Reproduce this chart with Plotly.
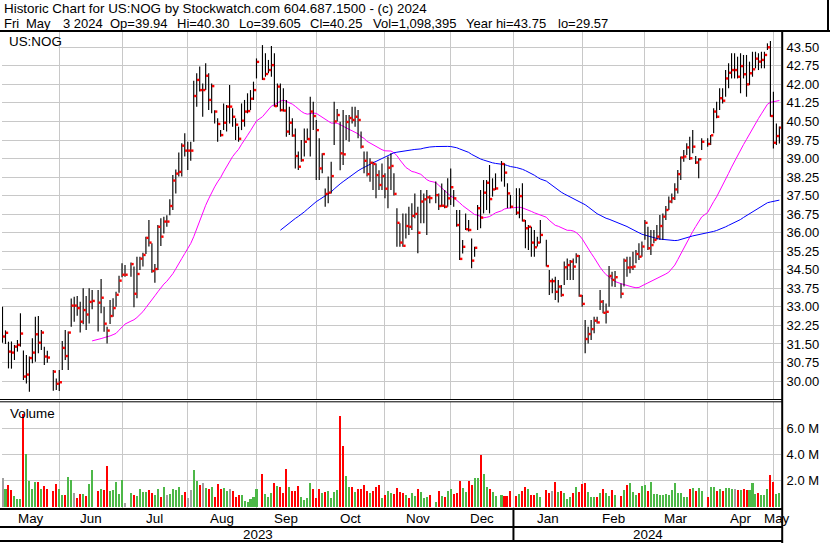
import numpy as np
import pandas as pd
import plotly.graph_objects as go

# ---------------- data ----------------
holidays = ["2023-05-29", "2023-06-19", "2023-07-04", "2023-09-04", "2023-11-23",
            "2023-12-25", "2024-01-01", "2024-01-15", "2024-02-19", "2024-03-29"]
first_day = "2023-05-05"
last_day = "2024-05-03"

highs = [
    33.0, 32.05, 31.59, 31.6, 31.46, 31.66, 32.74, 31.23, 31.05, 30.99, 31.73, 32.6, 32.63, 32.06, 31.39, 31.22,
    30.45, 30.1, 30.45, 31.62, 32.06, 32.0, 33.34, 33.41, 33.44, 33.21, 33.75, 33.44, 33.75, 33.68,
    33.68, 34.13, 33.0, 32.2, 33.28, 33.35, 33.61, 34.26, 34.76, 34.69,
    34.79, 34.63, 35.03, 35.03, 35.19, 35.84, 36.51, 35.57, 34.73, 36.31, 36.58, 36.65, 36.71, 37.35, 38.33,
    38.56, 39.24, 39.62, 40.02, 39.68, 39.68, 42.15, 42.45, 42.72, 42.04, 42.85, 42.45, 42.04, 40.95, 40.63,
    40.15, 41.23, 41.17, 41.97, 41.03, 40.63, 40.29, 41.23, 41.37, 41.64, 41.77, 42.11, 43.05,
    43.59, 43.26, 42.99, 43.55, 43.26, 42.04, 42.04, 41.84, 41.37, 41.1, 40.63, 40.22, 39.28, 39.75, 40.22,
    40.22, 41.5, 41.3, 40.56, 39.82, 39.21, 37.79, 38.27, 38.87, 41.3, 41.0, 40.49, 40.96, 40.76, 40.76,
    41.1, 41.1, 40.96, 40.09, 39.28, 39.28, 39.01, 38.87, 38.8, 38.53, 38.8, 38.4, 39.08, 39.21, 38.4,
    36.99, 36.38, 36.78, 36.78, 37.05, 37.19, 37.59, 37.05, 37.73, 37.59, 37.73, 37.52,
    38.07, 37.59, 37.99, 37.73, 38.2, 38.6, 37.73, 36.92, 36.92, 35.7, 36.78, 36.51, 35.77, 35.43, 37.12,
    37.73, 38.13, 38.13, 38.74, 38.2, 38.4,
    38.9, 38.81, 38.0, 37.53,
    37.8, 37.8, 38.0, 36.51, 36.31, 36.24, 36.11, 35.84, 36.51,
    35.71, 34.49, 34.15, 34.22, 34.09, 33.88, 34.83, 34.96, 34.9, 34.96, 35.17, 35.1, 33.48, 32.47, 32.2,
    32.47, 32.6, 32.6, 33.68, 33.28, 33.14, 34.65, 34.42, 34.45,
    33.95, 34.96, 35.03, 35.03, 35.23, 35.3, 35.57, 35.64, 36.51, 36.24, 36.11, 36.11, 36.31, 36.72, 36.78,
    37.08, 37.46, 37.59, 38.0, 38.54, 39.08, 39.35, 39.62, 39.88, 40.15, 39.1, 39.01, 39.82,
    39.82, 39.95, 41.03, 41.3, 41.84, 41.84, 42.58, 42.85, 43.26, 43.26, 43.12, 43.26, 43.19, 43.19, 42.92,
    43.32, 43.32, 43.26, 43.32, 43.32, 43.66, 43.75, 41.7, 40.42, 40.30,
]
lows = [
    31.55, 31.5, 30.51, 30.5, 30.85, 31.19, 31.39, 30.04, 29.9, 29.57, 30.72, 30.78, 31.12, 31.25, 30.65, 30.74,
    29.61, 29.64, 29.6, 30.45, 30.85, 30.45, 32.2, 32.4, 32.64, 31.96, 32.3, 32.06, 32.33, 32.9,
    32.0, 32.74, 31.99, 31.52, 32.31, 32.6, 33.0, 33.57, 34.2, 34.22,
    34.22, 32.98, 33.35, 34.49, 34.63, 35.14, 35.44, 34.38, 33.98, 34.49, 35.46, 35.97, 36.24, 36.71, 36.92,
    37.59, 38.27, 38.27, 39.08, 38.54, 38.91, 39.68, 41.1, 41.71, 40.69, 41.77, 40.96, 40.83, 40.42, 39.68,
    39.88, 40.15, 40.09, 40.42, 40.29, 39.75, 39.68, 40.15, 40.29, 40.83, 40.96, 41.37, 42.24,
    42.18, 42.31, 42.45, 42.31, 41.1, 41.1, 40.9, 40.9, 39.88, 39.95, 39.88, 38.6, 38.54, 38.87, 39.08,
    39.75, 39.08, 40.15, 38.13, 38.13, 38.4, 37.05, 37.19, 37.59, 39.55, 40.5, 38.53, 38.74, 39.75, 39.68,
    40.42, 40.29, 39.82, 39.41, 38.4, 38.27, 38.06, 37.73, 37.39, 37.73, 37.73, 37.39, 36.99, 37.73, 37.5,
    35.43, 35.43, 35.43, 35.77, 35.91, 36.11, 36.58, 35.17, 36.38, 36.38, 35.91, 37.19,
    37.19, 36.92, 37.05, 36.99, 37.05, 37.12, 37.05, 36.24, 34.9, 35.16, 36.11, 36.05, 34.56, 35.03, 36.11,
    36.18, 36.78, 36.92, 36.78, 37.46, 37.73,
    38.07, 37.86, 36.99, 36.99,
    36.72, 36.58, 36.45, 35.37, 35.3, 35.03, 35.03, 35.44, 35.57,
    34.63, 33.48, 33.55, 33.28, 33.18, 33.41, 33.88, 34.09, 34.09, 34.09, 34.76, 33.41, 33.0, 31.12, 31.52,
    31.66, 31.93, 32.33, 32.87, 32.74, 32.33, 33.0, 33.82, 33.8,
    33.35, 33.82, 34.22, 34.36, 34.49, 34.76, 34.9, 35.03, 35.71, 35.3, 35.1, 35.57, 35.71, 35.71, 35.71,
    36.51, 36.92, 37.19, 37.32, 37.59, 38.13, 38.87, 39.14, 38.94, 39.21, 38.78, 38.2, 39.35,
    39.48, 39.55, 40.02, 40.63, 40.96, 41.23, 41.5, 41.84, 42.24, 42.24, 42.24, 41.64, 42.24, 41.5, 41.97,
    42.31, 42.65, 42.58, 42.65, 42.65, 43.39, 40.69, 39.41, 39.55, 39.605,
]
closes = [
    31.8, 31.95, 31.19, 31.15, 31.39, 31.46, 31.92, 30.18, 30.26, 30.93, 31.15, 31.89, 31.55, 31.96, 30.99, 30.95,
    30.38, 29.89, 29.95, 31.34, 31.01, 31.96, 33.05, 33.05, 32.95, 32.4, 32.87, 32.69, 33.2, 33.24,
    33.17, 33.37, 32.32, 32.04, 32.63, 32.95, 33.49, 34.06, 34.3, 34.3,
    34.73, 33.53, 34.33, 34.95, 35.1, 35.79, 35.6, 34.45, 34.53, 36.24, 35.84, 36.45, 36.45, 37.08, 38.11,
    38.39, 38.46, 39.52, 39.32, 39.32, 39.32, 41.53, 42.18, 41.77, 41.77, 42.35, 41.37, 41.93, 40.9, 40.4,
    39.95, 40.45, 41.1, 41.1, 40.69, 40.37, 39.8, 40.53, 40.9, 40.92, 41.42, 41.77, 42.91,
    42.22, 42.42, 42.58, 42.78, 41.12, 41.91, 40.96, 40.94, 40.09, 40.45, 39.93, 39.1, 38.67, 38.93, 39.68,
    39.79, 40.9, 40.72, 40.15, 38.6, 39.18, 37.57, 37.62, 38.29, 40.5, 40.76, 39.21, 39.17, 40.48, 40.64,
    40.56, 40.69, 40.56, 39.48, 38.91, 38.37, 38.83, 38.78, 38.33, 37.93, 38.29, 37.78, 38.63, 38.7, 37.57,
    36.4, 35.6, 35.47, 36.27, 36.24, 36.68, 36.76, 36.0, 37.26, 37.35, 37.43, 37.4,
    37.52, 37.08, 37.09, 37.05, 37.39, 37.84, 37.39, 36.31, 34.94, 35.43, 36.14, 36.11, 34.87, 35.39, 36.99,
    36.61, 37.62, 38.02, 37.36, 37.75, 37.79,
    38.78, 38.43, 37.59, 37.05,
    36.81, 37.48, 36.49, 36.18, 36.24, 35.6, 35.41, 35.6, 35.91,
    34.65, 34.04, 34.04, 33.61, 33.82, 33.48, 34.6, 34.69, 34.83, 34.63, 35.06, 33.45, 33.12, 31.7, 31.9,
    32.1, 32.44, 32.37, 33.21, 32.76, 32.8, 34.25, 34.09, 34.2,
    33.53, 34.87, 34.59, 34.6, 34.63, 35.14, 35.03, 35.44, 36.4, 35.37, 35.5, 35.71, 35.84, 36.27, 36.65,
    36.92, 37.26, 37.39, 37.75, 38.37, 39.04, 39.08, 39.45, 39.01, 39.48, 38.84, 38.97, 39.68,
    39.59, 39.94, 40.9, 40.69, 41.44, 41.34, 42.24, 42.47, 42.58, 42.58, 42.31, 42.74, 42.41, 42.0, 42.45,
    42.61, 43.04, 42.92, 42.99, 43.19, 43.5, 40.72, 39.64, 39.91, 40.25,
]
volumes_m = [
    2.24, 1.37, 1.68, 1.3, 0.84, 0.59, 0.61, 7.1, 4.02, 1.98, 1.37, 1.88, 1.88, 1.37, 1.6, 1.35,
    1.22, 1.76, 1.37, 0.92, 0.92, 2.29, 2.04, 1.07, 0.69, 0.99, 0.99, 0.84, 1.73, 2.82,
    1.22, 1.37, 1.27, 3.13, 1.22, 1.3, 1.88, 0.99, 2.04, 0.31,
    1.07, 0.92, 0.84, 1.37, 1.15, 1.15, 1.3, 1.07, 0.92, 1.37, 0.76, 1.53, 0.92, 0.99, 1.37,
    1.3, 1.53, 0.92, 1.15, 0.69, 1.3, 2.82, 1.98, 1.68, 1.83, 1.45, 1.37, 1.53, 0.76, 1.76,
    1.37, 1.45, 1.22, 1.37, 1.22, 0.76, 0.92, 0.92, 0.46, 0.38, 0.61, 0.76, 1.37,
    2.52, 0.99, 0.76, 1.07, 1.83, 1.6, 1.53, 1.07, 2.93, 1.53, 1.22, 1.25, 1.6, 0.76, 0.53,
    0.69, 1.83, 1.37, 0.69, 1.37, 1.07, 1.15, 1.22, 0.69, 1.15, 1.3, 6.97, 4.68, 2.37, 1.53,
    1.53, 1.15, 1.37, 1.37, 1.68, 1.22, 1.07, 1.22, 1.53, 1.68, 0.69, 0.92, 1.22, 1.07, 0.99,
    1.45, 1.15, 1.07, 0.92, 0.69, 1.07, 0.84, 1.37, 1.15, 0.69, 0.76, 0.94,
    0.38, 1.22, 0.84, 0.76, 1.22, 1.37, 0.99, 1.07, 1.98, 1.45, 1.15, 1.98, 1.68, 2.21, 2.21,
    3.97, 2.52, 1.53, 1.37, 1.15, 0.84,
    0.92, 0.84, 0.84, 1.22,
    0.84, 0.99, 1.22, 1.53, 1.37, 0.92, 0.92, 1.07, 0.76,
    1.3, 1.07, 1.22, 1.91, 1.15, 1.22, 1.07, 0.61, 0.76, 1.07, 1.53, 1.15, 1.76, 1.83, 1.15,
    0.76, 0.76, 0.76, 1.07, 1.37, 1.07, 0.84, 1.3, 0.92,
    0.84, 1.3, 1.68, 1.83, 1.15, 0.92, 1.07, 1.6, 1.68, 1.22, 1.91, 0.99, 0.99, 0.92, 0.92,
    0.99, 0.92, 1.3, 1.83, 1.07, 1.07, 0.76, 0.76, 1.37, 1.45, 1.22, 1.45, 1.22,
    0.76, 1.53, 1.53, 1.22, 1.37, 1.22, 1.45, 1.45, 1.37, 1.37, 1.3, 1.3, 1.37, 1.3, 1.3,
    1.83, 0.99, 1.07, 0.92, 0.92, 1.37, 2.44, 1.91, 0.99, 1.098395,
]
ma_short, ma_long = 30, 90
price_ticks = [30.00, 30.75, 31.50, 32.25, 33.00, 33.75, 34.50, 35.25, 36.00, 36.75,
               37.50, 38.25, 39.00, 39.75, 40.50, 41.25, 42.00, 42.75, 43.50]
volume_ticks_m = [2.0, 4.0, 6.0]

header1 = "Historic Chart for US:NOG by Stockwatch.com 604.687.1500 - (c) 2024"
# second header line: (text, left x in px)
header2_fields = [("Fri", 1.7), ("May", 24), ("3 2024", 61.0), ("Op=39.94", 108.3),
                  ("Hi=40.30", 175), ("Lo=39.605", 237.3), ("Cl=40.25", 308.3),
                  ("Vol=1,098,395", 370.7), ("Year hi=43.75", 464.3), ("lo=29.57", 556)]
symbol = "US:NOG"

# ---------------- derived positions ----------------
slots = pd.bdate_range(first_day, last_day)                 # one slot per weekday
trade_dates = slots[~slots.isin(pd.to_datetime(holidays))]
pos = np.array(slots.get_indexer(trade_dates), dtype=float)
assert len(pos) == len(closes) == len(highs) == len(lows) == len(volumes_m)

c = pd.Series(closes)
ma1 = c.rolling(ma_short).mean()
ma2 = c.rolling(ma_long).mean()

diff = np.round(c.diff().values, 4)
vol_colors = ["#A0A0A0" if (np.isnan(d) or d == 0) else ("#4DB848" if d > 0 else "#FF0000") for d in diff]

month_starts = pd.date_range("2023-06-01", last_day, freq="MS")
grid_pos = [int((slots <= m).sum()) - 1 for m in month_starts]

# ---------------- geometry (pixels of the 830x543 page) ----------------
W, H = 830, 543
STEP = 2.988
PX_L, PX_R = 2.0, 781.0
def xp(px): return px / W
def yp(py): return 1 - py / H
X0 = (PX_L - 2.5) / STEP
X1 = (PX_R - 2.5) / STEP
P_PER_PX = 1 / 24.72
PRICE_TOP = 43.5 + (47.3 - 32) * P_PER_PX
PRICE_BOT = 43.5 - (399 - 47.3) * P_PER_PX
V_PER_PX = 2.0 / 26.2
VOL_TOP = (507 - 402) * V_PER_PX
VOL_BOT = (507 - 508) * V_PER_PX

FONT = "Liberation Sans, Arial, sans-serif"
GRID = "#C8C8C8"

fig = go.Figure()

# volume bars
fig.add_trace(go.Bar(x=pos, y=volumes_m, marker=dict(color=vol_colors, line=dict(width=0)),
                     width=0.68, xaxis="x2", yaxis="y2", showlegend=False, hoverinfo="skip"))

# moving averages
fig.add_trace(go.Scatter(x=pos, y=ma1, mode="lines", line=dict(color="#FF00FF", width=1),
                         showlegend=False, hoverinfo="skip"))
fig.add_trace(go.Scatter(x=pos, y=ma2, mode="lines", line=dict(color="#0000FF", width=1),
                         showlegend=False, hoverinfo="skip"))

# high-low bars
bx, by = [], []
for p, lo, hi in zip(pos, lows, highs):
    bx += [p, p, None]
    by += [lo, hi, None]
fig.add_trace(go.Scatter(x=bx, y=by, mode="lines", line=dict(color="black", width=1.15),
                         showlegend=False, hoverinfo="skip"))
# close ticks
fig.add_trace(go.Scatter(x=pos + 0.5, y=closes, mode="markers",
                         marker=dict(symbol="square", size=2.4, color="#FF0000", line=dict(width=0)),
                         showlegend=False, hoverinfo="skip"))

axis_common = dict(range=[X0, X1], domain=[xp(PX_L), xp(PX_R)], tickvals=grid_pos, showgrid=True,
                   gridcolor=GRID, gridwidth=1, showticklabels=False, ticks="", zeroline=False,
                   showline=False, fixedrange=True)
yaxis_common = dict(side="right", showgrid=True, gridcolor=GRID, gridwidth=1, zeroline=False,
                    ticks="outside", ticklen=2, tickcolor="rgba(0,0,0,0)", showline=False,
                    tickfont=dict(size=13, family=FONT, color="black"), fixedrange=True)

fig.update_layout(
    width=W, height=H, margin=dict(l=0, r=0, t=0, b=0),
    paper_bgcolor="white", plot_bgcolor="white", bargap=0,
    font=dict(family=FONT, size=13, color="black"),
    xaxis=dict(anchor="y", **axis_common),
    xaxis2=dict(anchor="y2", matches="x", **axis_common),
    yaxis=dict(anchor="x", domain=[yp(399), yp(32)], range=[PRICE_BOT, PRICE_TOP],
               tickvals=price_ticks, ticktext=[f"{t:.2f}" for t in price_ticks], **yaxis_common),
    yaxis2=dict(anchor="x2", domain=[yp(508), yp(402)], range=[VOL_BOT, VOL_TOP],
                tickvals=volume_ticks_m, ticktext=[f"{t:.1f} M" for t in volume_ticks_m], **yaxis_common),
)

shapes = []
def hline(py, x0, x1, w=2):
    shapes.append(dict(type="line", xref="paper", yref="paper", x0=xp(x0), x1=xp(x1),
                       y0=yp(py), y1=yp(py), line=dict(color="black", width=w), layer="above"))
def vline(px, y0, y1, w=2):
    shapes.append(dict(type="line", xref="paper", yref="paper", x0=xp(px), x1=xp(px),
                       y0=yp(y0), y1=yp(y1), line=dict(color="black", width=w), layer="above"))

# white box behind the symbol label
shapes.append(dict(type="rect", xref="paper", yref="paper", x0=xp(PX_L), x1=xp(58.5),
                   y0=yp(48.6), y1=yp(32), fillcolor="white", line=dict(width=0), layer="above"))
hline(31, 0, 830, 2)
vline(828, 0, 31, 2)
vline(782.2, 31, 543, 2)
hline(399.5, 0, 782, 1)
hline(401.8, 0, 782, 1)
hline(509, 0, 782, 2)
hline(527, 0, 782, 2)
hline(541, 0, 782, 2)
jan_idx = grid_pos[list(month_starts.month).index(1)]
jan_px = 2.5 + jan_idx * STEP
vline(jan_px, 509, 541, 2)
fig.update_layout(shapes=shapes)

ann = []
def text(px, py, s, size=13, anchor="left"):
    ann.append(dict(x=xp(px), y=yp(py), xref="paper", yref="paper", text=s, showarrow=False,
                    xanchor=anchor, yanchor="middle", font=dict(size=size, family=FONT, color="black")))

text(2, 8.5, header1, 13.4)
for s, x in header2_fields:
    text(x, 23, s, 13.0)
text(7, 41, symbol, 13.4)
text(8, 413.5, "Volume", 13.4)

bounds = [X0] + grid_pos + [X1]
labels = [slots[0].strftime("%b")] + [m.strftime("%b") for m in month_starts]
for i, lab in enumerate(labels):
    mid = (bounds[i] + bounds[i + 1]) / 2
    text(2.5 + mid * STEP, 518, lab, 13.4, "center")
text((PX_L + jan_px) / 2, 534.5, str(slots[0].year), 13.4, "center")
text((jan_px + 782) / 2, 534.5, str(slots[-1].year), 13.4, "center")
fig.update_layout(annotations=ann)

fig.write_html("out.html", config={"displayModeBar": False, "staticPlot": True},
               post_script="document.body.style.margin='0';document.body.style.padding='0';")
